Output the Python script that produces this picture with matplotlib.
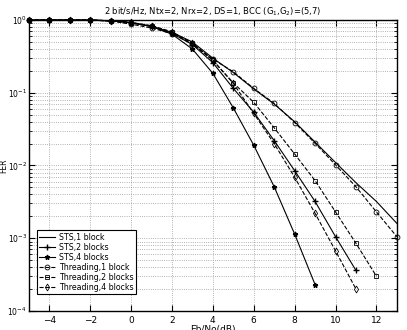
import matplotlib
matplotlib.use("Agg")
import matplotlib.pyplot as plt
import numpy as np

snr = np.arange(-5, 14)

sts1 = [1, 1, 1, 1, 0.98, 0.93, 0.82, 0.68, 0.50, 0.30, 0.19, 0.113, 0.070,
        0.040, 0.021, 0.011, 0.0058, 0.0032, 0.0016]
sts2 = [1, 1, 1, 1, 0.98, 0.92, 0.82, 0.66, 0.46, 0.26, 0.115, 0.054, 0.022,
        0.0085, 0.0032, 0.00105, 0.00036]
sts4 = [1, 1, 1, 1, 0.98, 0.92, 0.82, 0.64, 0.40, 0.185, 0.062, 0.019, 0.0051,
        0.00114, 0.00023]
thr1 = [1, 1, 1, 1, 0.97, 0.88, 0.78, 0.65, 0.47, 0.29, 0.195, 0.115, 0.0716,
        0.039, 0.0202, 0.0102, 0.0051, 0.0023, 0.00105]
thr2 = [1, 1, 1, 1, 0.98, 0.92, 0.83, 0.68, 0.48, 0.28, 0.137, 0.074, 0.033,
        0.0144, 0.0062, 0.0023, 0.00085, 0.0003]
thr4 = [1, 1, 1, 1, 0.98, 0.93, 0.84, 0.69, 0.48, 0.28, 0.135, 0.052, 0.020,
        0.0069, 0.0022, 0.00067, 0.0002]

fig = plt.figure(figsize=(4.07, 3.30), dpi=100)
ax = fig.add_axes([0.071, 0.058, 0.904, 0.881])

lw = 0.8
ms = 3.5
kw = dict(color='k', lw=lw, clip_on=False)
ax.semilogy(snr[:len(sts1)], sts1, '-', label='STS,1 block', **kw)
ax.semilogy(snr[:len(sts2)], sts2, '-+', ms=ms + 1, label='STS,2 blocks', **kw)
ax.semilogy(snr[:len(sts4)], sts4, '-*', ms=ms, label='STS,4 blocks', **kw)
ax.semilogy(snr[:len(thr1)], thr1, '--o', ms=ms, mfc='none', mew=0.6,
            label='Threading,1 block', **kw)
ax.semilogy(snr[:len(thr2)], thr2, '--s', ms=ms, mfc='none', mew=0.6,
            label='Threading,2 blocks', **kw)
ax.semilogy(snr[:len(thr4)], thr4, '--d', ms=ms, mfc='none', mew=0.6,
            label='Threading,4 blocks', **kw)

ax.set_xlim(-5, 13)
ax.set_ylim(1e-4, 1)
ax.set_xticks([-4, -2, 0, 2, 4, 6, 8, 10, 12])
ax.tick_params(axis='both', which='both', direction='in', labelsize=6.5, top=True, right=True)
ax.tick_params(axis='y', pad=1.5, labelsize=5.5)
ax.tick_params(which='major', length=4)
ax.tick_params(which='minor', length=2)
ax.grid(True, which='major', ls=':', lw=0.6, color='#999999')
ax.grid(True, which='minor', axis='y', ls=':', lw=0.6, color='#999999')
for s in ax.spines.values():
    s.set_linewidth(1.0)

ax.set_title('2 bit/s/Hz, Ntx=2, Nrx=2, DS=1, BCC (G$_1$,G$_2$)=(5,7)', fontsize=6, pad=4)
ax.set_xlabel('Eb/No(dB)', fontsize=6.5, labelpad=0)
ax.set_ylabel('FER', fontsize=5.5)
ax.yaxis.set_label_coords(-0.056, 0.5)

leg = ax.legend(loc='lower left', bbox_to_anchor=(0.022, 0.058), borderaxespad=0,
                fontsize=5.7, handlelength=2, fancybox=False, edgecolor='k',
                framealpha=1, borderpad=0.3, labelspacing=0.12, handletextpad=0.5)
leg.get_frame().set_linewidth(0.8)

fig.savefig('out.png', dpi=100)
